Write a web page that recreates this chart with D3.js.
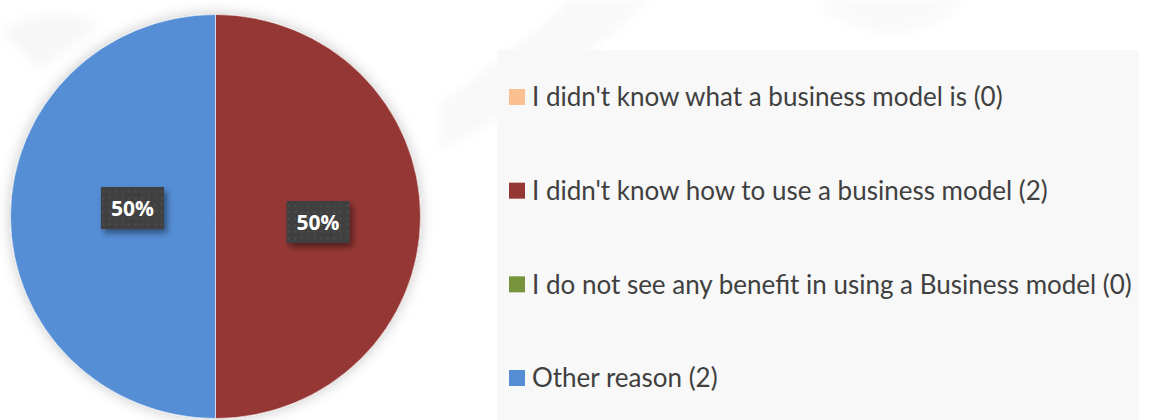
<!DOCTYPE html>
<html>
<head>
<meta charset="utf-8">
<script src="https://cdn.jsdelivr.net/npm/d3@7"></script>
<style>
  html, body { margin: 0; padding: 0; background: #ffffff; }
  svg { display: block; }
</style>
</head>
<body>
<svg id="chart" width="1149" height="420"></svg>
<script>
// Reasons for not using a business model (response counts)
const categories = [
  "I didn't know what a business model is",
  "I didn't know how to use a business model",
  "I do not see any benefit in using a Business model",
  "Other reason"
];
const counts = [0, 2, 0, 2];
const colors = ["#FAC090", "#953735", "#77933C", "#558ED5"];

const data = categories.map((c, i) => ({ name: c, value: counts[i], color: colors[i] }));
const total = d3.sum(counts);

const svg = d3.select("#chart");
const W = 1149, H = 420;

const defs = svg.append("defs");

// soft glow around the pie
const glow = defs.append("filter").attr("id", "pieGlow")
  .attr("x", "-20%").attr("y", "-20%").attr("width", "140%").attr("height", "140%");
glow.append("feDropShadow").attr("dx", 0).attr("dy", 0)
  .attr("stdDeviation", 7).attr("flood-color", "#000").attr("flood-opacity", 0.22);

// shadow under data label boxes
const lblShadow = defs.append("filter").attr("id", "lblShadow")
  .attr("x", "-30%").attr("y", "-30%").attr("width", "160%").attr("height", "160%");
lblShadow.append("feDropShadow").attr("dx", 3).attr("dy", 4)
  .attr("stdDeviation", 3).attr("flood-color", "#000").attr("flood-opacity", 0.45);

// dotted fill for label boxes
const pat = defs.append("pattern").attr("id", "dots")
  .attr("width", 6.5).attr("height", 6.5).attr("patternUnits", "userSpaceOnUse");
pat.append("rect").attr("width", 6.5).attr("height", 6.5).attr("fill", "#3f3f3f");
pat.append("rect").attr("x", 2.5).attr("y", 2.5).attr("width", 1.6).attr("height", 1.6).attr("fill", "#585858");

// faint decorative swooshes on the background
const bgBlur = defs.append("filter").attr("id", "bgBlur")
  .attr("x", "-20%").attr("y", "-20%").attr("width", "140%").attr("height", "140%");
bgBlur.append("feGaussianBlur").attr("stdDeviation", 6);
const deco = svg.append("g").attr("filter", "url(#bgBlur)");
deco.append("path")
  .attr("d", "M570,0 C530,40 480,75 440,105 L440,150 C520,110 590,50 650,0 Z")
  .attr("fill", "#f8f8f8");
deco.append("path")
  .attr("d", "M815,0 C855,40 925,45 965,0 Z")
  .attr("fill", "#f9f9f9");
deco.append("path")
  .attr("d", "M0,30 C40,10 70,10 100,25 L40,70 Z")
  .attr("fill", "#f7f7f7");

// legend panel
const panel = { x: 497, y: 50, w: 642, h: H - 50 };
svg.append("rect")
  .attr("x", panel.x).attr("y", panel.y)
  .attr("width", panel.w).attr("height", panel.h)
  .attr("fill", "#f8f8f8");

// pie
const cx = 215.5, cy = 216.5, rx = 205, ry = 202;
const pie = d3.pie().sort(null).value(d => d.value);
const arcs = pie(data);
const arc = d3.arc().innerRadius(0).outerRadius(rx);

const pieG = svg.append("g")
  .attr("transform", `translate(${cx},${cy}) scale(1,${ry / rx})`)
  .attr("filter", "url(#pieGlow)");
pieG.selectAll("path")
  .data(arcs.filter(d => d.data.value > 0))
  .join("path")
  .attr("d", arc)
  .attr("fill", d => d.data.color)
  .attr("stroke", "rgba(255,255,255,0.55)")
  .attr("stroke-width", 1);

// data labels
const fmt = d3.format(".0%");
const labelArc = d3.arc().innerRadius(0).outerRadius(rx);
const labelG = svg.append("g").attr("transform", `translate(${cx},${cy})`);
const labels = labelG.selectAll("g.lbl")
  .data(arcs.filter(d => d.data.value > 0))
  .join("g")
  .attr("class", "lbl")
  .attr("transform", d => {
    const [x, y] = labelArc.centroid(d);
    // right-side label sits further out and a little lower
    const k = x > 0 ? 1.0 : 0.81;
    const dy = x > 0 ? 5.5 : -8.5;
    return `translate(${x * k},${y * k + dy})`;
  });
const bw = 63, bh = 42;
labels.append("rect")
  .attr("x", -bw / 2).attr("y", -bh / 2)
  .attr("width", bw).attr("height", bh)
  .attr("fill", "url(#dots)")
  .attr("filter", "url(#lblShadow)");
labels.append("text")
  .attr("text-anchor", "middle")
  .attr("dy", "0.36em")
  .attr("fill", "#ffffff")
  .attr("font-family", "'Open Sans', Lato, sans-serif")
  .attr("font-weight", 700)
  .attr("font-size", 21)
  .text(d => fmt(d.data.value / total));

// legend
const legendY = d3.scalePoint()
  .domain(categories)
  .range([97, 378]);
const leg = svg.append("g").selectAll("g")
  .data(data)
  .join("g")
  .attr("transform", d => `translate(509,${legendY(d.name)})`);
leg.append("rect")
  .attr("x", 0).attr("y", -8)
  .attr("width", 16).attr("height", 16)
  .attr("fill", d => d.color);
leg.append("text")
  .attr("x", 23)
  .attr("dy", "0.36em")
  .attr("fill", "#404040")
  .attr("font-family", "Lato, 'Open Sans', sans-serif")
  .attr("font-size", 26)
  .text(d => `${d.name} (${d.value})`);
</script>
</body>
</html>
